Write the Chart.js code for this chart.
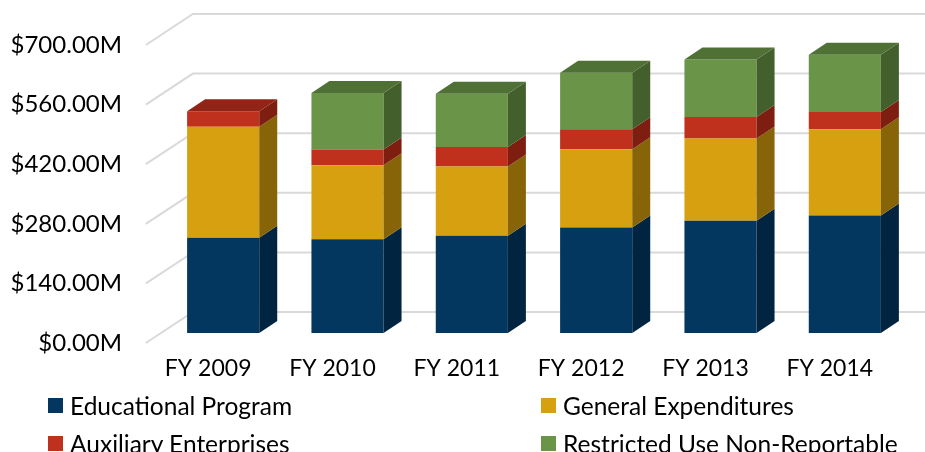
<!DOCTYPE html>
<html><head><meta charset="utf-8">
<script src="https://cdn.jsdelivr.net/npm/chart.js@4"></script>
<style>
html,body{margin:0;padding:0;background:#fff;}
#wrap{position:relative;width:925px;height:452px;overflow:hidden;}
#legend{position:absolute;left:0;top:0;width:925px;height:452px;pointer-events:none;font-family:Lato,"Open Sans",sans-serif;font-size:24.5px;color:#000;}
.item{position:absolute;height:30px;display:flex;align-items:center;white-space:nowrap;}
.box{width:15px;height:15px;margin-right:7px;flex:none;}
</style></head>
<body>
<div id="wrap"><canvas id="c" width="925" height="452"></canvas><div id="legend"></div></div>
<script>
const categories = ['FY 2009','FY 2010','FY 2011','FY 2012','FY 2013','FY 2014'];
const educationalProgram = [223.5, 220.4, 228.2, 248.0, 263.4, 276.0];
const generalExpenditures = [261.2, 173.6, 162.8, 183.5, 193.2, 202.4];
const auxiliaryEnterprises = [35.9, 36.8, 46.0, 47.0, 50.7, 40.6];
const restrictedUse = [0, 132.8, 125.0, 132.6, 135.3, 134.6];
const yTickValues = [0, 140, 280, 420, 560, 700];
const seriesLabels = ['Educational Program','General Expenditures','Auxiliary Enterprises','Restricted Use Non-Reportable'];

const frontColors = ['#03375F','#D6A010','#BF311C','#6A9549'];
const sideColors  = ['#012540','#866407','#7E1E10','#425F2C'];
const topColors   = ['#022A48','#A07A0A','#902416','#4F7136'];
const FONT = 'Lato, "Open Sans", sans-serif';

const DX = 18, DY = -12;            // bar depth
const WALL_DX = 47, WALL_DY = -31;  // floor depth
const FRONT_FRAC = 10/31;           // bars' plane position within depth

const threeD = {
  id: 'threeD',
  beforeDatasetsDraw(chart) {
    const ctx = chart.ctx, ys = chart.scales.y, ca = chart.chartArea;
    const fx = ca.left - WALL_DX*FRONT_FRAC, fyOff = -WALL_DY*FRONT_FRAC;
    const bx = fx + WALL_DX, byOff = fyOff + WALL_DY;
    ctx.save();
    ctx.strokeStyle = '#D9D9D9';
    ctx.lineWidth = 2;
    yTickValues.forEach(v => {
      const y = ys.getPixelForValue(v);
      ctx.beginPath();
      ctx.moveTo(fx, y + fyOff);
      ctx.lineTo(bx, y + byOff);
      ctx.lineTo(chart.width, y + byOff);
      ctx.stroke();
    });
    ctx.restore();
  },
  afterDatasetsDraw(chart) {
    const ctx = chart.ctx;
    const n = categories.length;
    const topIdx = [];
    for (let i = 0; i < n; i++) {
      let t = -1;
      chart.data.datasets.forEach((ds, d) => { if (ds.data[i] > 0) t = d; });
      topIdx.push(t);
    }
    ctx.save();
    chart.data.datasets.forEach((ds, d) => {
      const meta = chart.getDatasetMeta(d);
      meta.data.forEach((el, i) => {
        if (!(ds.data[i] > 0)) return;
        const p = el.getProps(['x','y','base','width'], true);
        const l = p.x - p.width/2, r = p.x + p.width/2;
        const top = Math.min(p.y, p.base), bot = Math.max(p.y, p.base);
        ctx.fillStyle = sideColors[d];
        ctx.beginPath();
        ctx.moveTo(r, top); ctx.lineTo(r+DX, top+DY); ctx.lineTo(r+DX, bot+DY); ctx.lineTo(r, bot);
        ctx.closePath(); ctx.fill();
        if (topIdx[i] === d) {
          ctx.fillStyle = topColors[d];
          ctx.beginPath();
          ctx.moveTo(l, top); ctx.lineTo(l+DX, top+DY); ctx.lineTo(r+DX, top+DY); ctx.lineTo(r, top);
          ctx.closePath(); ctx.fill();
        }
      });
    });
    ctx.restore();
  }
};

const seriesData = [educationalProgram, generalExpenditures, auxiliaryEnterprises, restrictedUse];
const chart = new Chart(document.getElementById('c'), {
  type: 'bar',
  data: {
    labels: categories,
    datasets: seriesData.map((arr, d) => ({
      label: seriesLabels[d],
      data: arr,
      backgroundColor: frontColors[d],
      borderWidth: 0,
      categoryPercentage: 1,
      barPercentage: 0.58
    }))
  },
  options: {
    responsive: false,
    animation: false,
    layout: { padding: { top: 35, right: 18, left: 0, bottom: 0 } },
    plugins: { legend: { display: false }, tooltip: { enabled: false } },
    scales: {
      x: {
        stacked: true,
        grid: { display: false, drawTicks: false },
        border: { display: false },
        ticks: { color: '#000', font: { family: FONT, size: 23 }, padding: 22, labelOffset: -15, maxRotation: 0 },
        afterFit(s) { s.height = 119; s.paddingLeft = 0; s.paddingRight = 0; }
      },
      y: {
        stacked: true,
        min: 0, max: 700,
        grid: { display: false, drawTicks: false },
        border: { display: false },
        afterBuildTicks(s) { s.ticks = yTickValues.map(v => ({ value: v })); },
        ticks: {
          color: '#000', font: { family: FONT, size: 24 }, padding: 39, labelOffset: 10,
          callback: v => '$' + Number(v).toFixed(2) + 'M'
        },
        afterFit(s) { s.width = 161; s.paddingTop = 0; s.paddingBottom = 0; }
      }
    }
  },
  plugins: [threeD]
});

// HTML legend in two columns
const legendPos = [[48, 390], [541, 390], [48, 428], [541, 428]];
const lg = document.getElementById('legend');
chart.data.datasets.forEach((ds, d) => {
  const it = document.createElement('div');
  it.className = 'item';
  it.style.left = legendPos[d][0] + 'px';
  it.style.top = legendPos[d][1] + 'px';
  const b = document.createElement('span'); b.className = 'box'; b.style.background = ds.backgroundColor;
  const t = document.createElement('span'); t.textContent = ds.label;
  it.appendChild(b); it.appendChild(t);
  lg.appendChild(it);
});
</script>
</body></html>
